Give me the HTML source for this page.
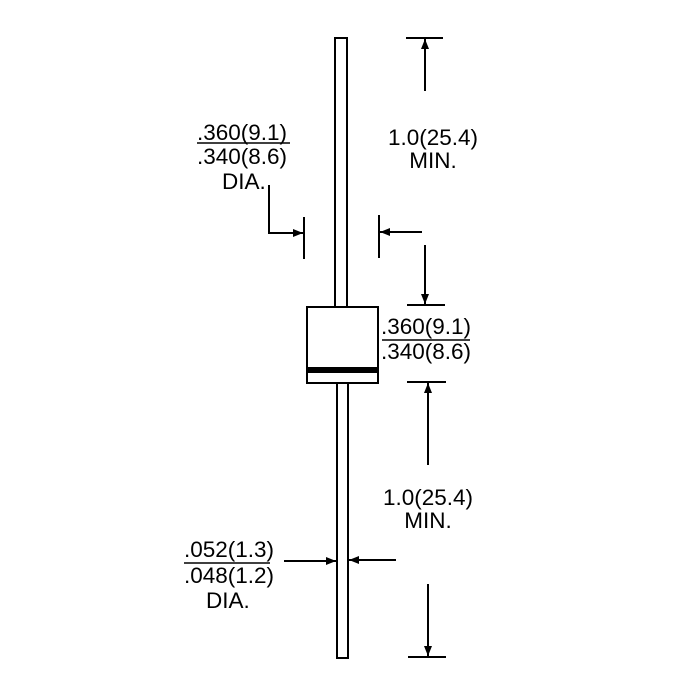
<!DOCTYPE html>
<html><head><meta charset="utf-8"><style>html,body{margin:0;padding:0;background:#fff}svg{display:block}text{font-family:"Liberation Sans",sans-serif;font-size:22.5px;fill:#000}</style></head>
<body>
<svg width="700" height="700" viewBox="0 0 700 700" xmlns="http://www.w3.org/2000/svg">
<defs>
<marker id="b" viewBox="0 0 10 10" refX="10" refY="5" markerWidth="16" markerHeight="10" markerUnits="userSpaceOnUse" orient="auto"><path d="M0,1 L10,5 L0,9 Z" fill="#000"/></marker>
</defs>
<g stroke="#000" stroke-width="2" fill="none">
<rect x="335" y="38" width="12" height="269" fill="#fff"/>
<rect x="337" y="383" width="11" height="275" fill="#fff"/>
<rect x="307" y="307" width="71" height="76" fill="#fff"/>
<polyline points="269,185 269,233 303,233" marker-end="url(#b)"/>
<line x1="304" y1="217" x2="304" y2="259"/>
<line x1="379" y1="215" x2="379" y2="258"/>
<line x1="422" y1="232" x2="380" y2="232" marker-end="url(#b)"/>
<line x1="406" y1="38" x2="443" y2="38"/>
<line x1="425" y1="91" x2="425" y2="39" marker-end="url(#b)"/>
<line x1="425" y1="245" x2="425" y2="304" marker-end="url(#b)"/>
<line x1="407" y1="305" x2="445" y2="305"/>
<line x1="382" y1="340" x2="470" y2="340" stroke-width="1.5"/>
<line x1="407" y1="382" x2="446" y2="382"/>
<line x1="428" y1="465" x2="428" y2="383" marker-end="url(#b)"/>
<line x1="428" y1="584" x2="428" y2="656" marker-end="url(#b)"/>
<line x1="408" y1="657" x2="446" y2="657"/>
<line x1="284" y1="561" x2="336" y2="561" marker-end="url(#b)"/>
<line x1="396" y1="560" x2="349" y2="560" marker-end="url(#b)"/>
<line x1="197" y1="143" x2="290" y2="143" stroke-width="1.5"/>
<line x1="184" y1="563" x2="270" y2="563" stroke-width="1.5"/>
</g>
<rect x="307" y="367" width="71" height="6" fill="#000"/>
<text x="197" y="140">.360(9.1)</text>
<text x="197" y="164">.340(8.6)</text>
<text x="222" y="189">DIA.</text>
<text x="433" y="145" text-anchor="middle">1.0(25.4)</text>
<text x="433" y="168" text-anchor="middle">MIN.</text>
<text x="381" y="334">.360(9.1)</text>
<text x="381" y="359">.340(8.6)</text>
<text x="428" y="505" text-anchor="middle">1.0(25.4)</text>
<text x="428" y="528" text-anchor="middle">MIN.</text>
<text x="184" y="557">.052(1.3)</text>
<text x="184" y="583">.048(1.2)</text>
<text x="206" y="608">DIA.</text>
</svg>
</body></html>
